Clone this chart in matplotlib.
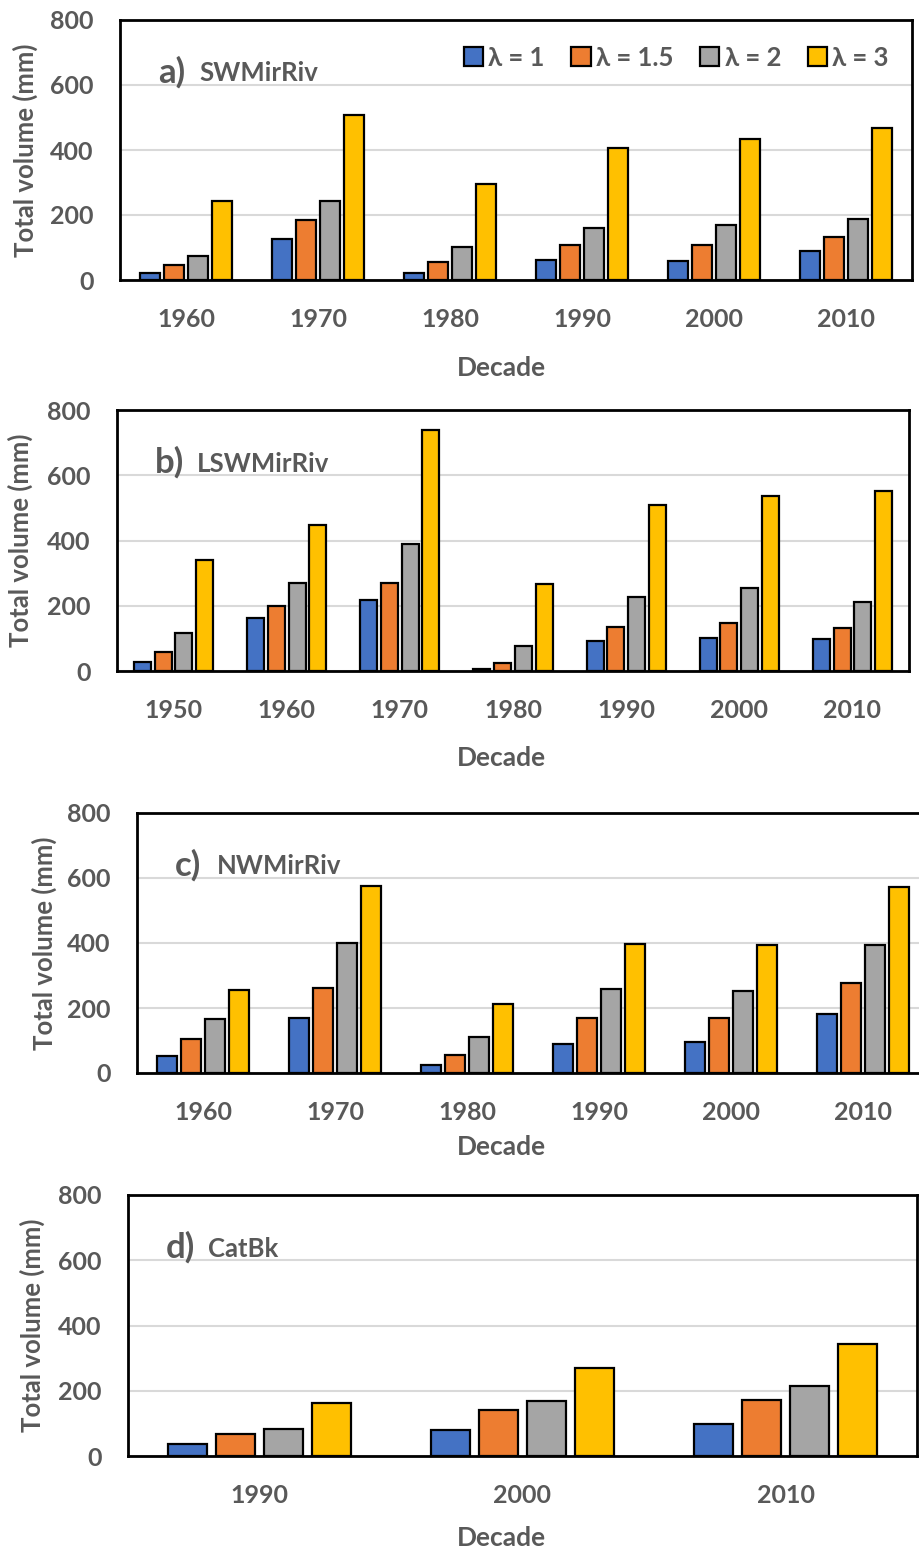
import matplotlib
matplotlib.use("Agg")
import matplotlib.pyplot as plt
import numpy as np

plt.rcParams['font.family'] = ['Lato', 'DejaVu Sans']
plt.rcParams['font.weight'] = 'bold'

series_labels = ["λ = 1", "λ = 1.5", "λ = 2", "λ = 3"]
colors = ["#4472C4", "#ED7D31", "#A5A5A5", "#FFC000"]
text_gray = "#595959"

# a) SWMirRiv
a_decades = ["1960", "1970", "1980", "1990", "2000", "2010"]
a_l1 = [22, 125, 22, 62, 58, 90]
a_l15 = [46, 185, 56, 108, 108, 133]
a_l2 = [74, 243, 101, 161, 169, 188]
a_l3 = [243, 508, 294, 405, 433, 469]

# b) LSWMirRiv
b_decades = ["1950", "1960", "1970", "1980", "1990", "2000", "2010"]
b_l1 = [29, 163, 219, 7, 93, 100, 97]
b_l15 = [57, 198, 271, 26, 136, 148, 132]
b_l2 = [115, 271, 388, 77, 227, 254, 210]
b_l3 = [340, 446, 740, 266, 509, 536, 553]

# c) NWMirRiv
c_decades = ["1960", "1970", "1980", "1990", "2000", "2010"]
c_l1 = [51, 169, 24, 90, 94, 181]
c_l15 = [106, 263, 55, 169, 169, 276]
c_l2 = [166, 401, 110, 259, 252, 394]
c_l3 = [256, 575, 213, 397, 394, 571]

# d) CatBk
d_decades = ["1990", "2000", "2010"]
d_l1 = [38, 79, 97]
d_l15 = [66, 141, 173]
d_l2 = [83, 170, 216]
d_l3 = [161, 271, 342]

W, H = 919, 1554
fig = plt.figure(figsize=(W / 100, H / 100), dpi=100)


def px_axes(x0, x1, y0, y1):
    return fig.add_axes([x0 / W, 1 - y1 / H, (x1 - x0) / W, (y1 - y0) / H])


def panel(box, decades, values, tag, name, xlabel_y, ylabel_x, legend=False):
    ax = px_axes(*box)
    x = np.arange(len(decades))
    for k, vals in enumerate(values):
        ax.bar(x + (k - 1.5) * 0.183, vals, width=0.15, color=colors[k],
               edgecolor="black", linewidth=1.6, label=series_labels[k], zorder=3)
    ax.set_xlim(-0.5, len(decades) - 0.5)
    ax.set_ylim(0, 800)
    ax.set_yticks([0, 200, 400, 600, 800])
    ax.set_xticks(x)
    ax.set_xticklabels(decades)
    ax.tick_params(length=0, labelsize=18, labelcolor=text_gray)
    ax.tick_params(axis="y", pad=19)
    ax.tick_params(axis="x", pad=20)
    ax.yaxis.grid(True, color="#D9D9D9", linewidth=1.5, zorder=0)
    for s in ax.spines.values():
        s.set_linewidth(2)
        s.set_color("black")
    # panel tag
    ax.text(0.048, 0.80, tag, transform=ax.transAxes, fontsize=25,
            color=text_gray, fontweight="bold", va="center", ha="left")
    ax.annotate(name, xy=(0.048, 0.80), xycoords="axes fraction",
                xytext=(30, -1), textcoords="offset points", fontsize=18.5,
                color=text_gray, fontweight="bold", va="center", ha="left")
    fig.text(501 / W, 1 - xlabel_y / H, "Decade", fontsize=19,
             color=text_gray, fontweight="bold", ha="center", va="center")
    fig.text(ylabel_x / W, 1 - (box[2] + box[3]) / 2 / H, "Total volume (mm)",
             fontsize=18.5, color=text_gray, fontweight="bold", rotation=90,
             ha="center", va="center")
    if legend:
        ax.legend(loc="upper right", ncol=4, frameon=False, fontsize=18.5,
                  handlelength=0.75, handleheight=0.75, handletextpad=0.2,
                  columnspacing=1.05, bbox_to_anchor=(1.0, 0.99),
                  labelcolor=text_gray)
    return ax


panel((120, 912, 20, 280), a_decades, [a_l1, a_l15, a_l2, a_l3],
      "a)", "SWMirRiv", 368, 25, legend=True)
panel((117, 909, 410, 671), b_decades, [b_l1, b_l15, b_l2, b_l3],
      "b)", "LSWMirRiv", 758, 20)
panel((137, 929, 813, 1073), c_decades, [c_l1, c_l15, c_l2, c_l3],
      "c)", "NWMirRiv", 1147, 44)
panel((128, 917, 1195, 1456), d_decades, [d_l1, d_l15, d_l2, d_l3],
      "d)", "CatBk", 1538, 32)

fig.savefig("out.png", dpi=100)
